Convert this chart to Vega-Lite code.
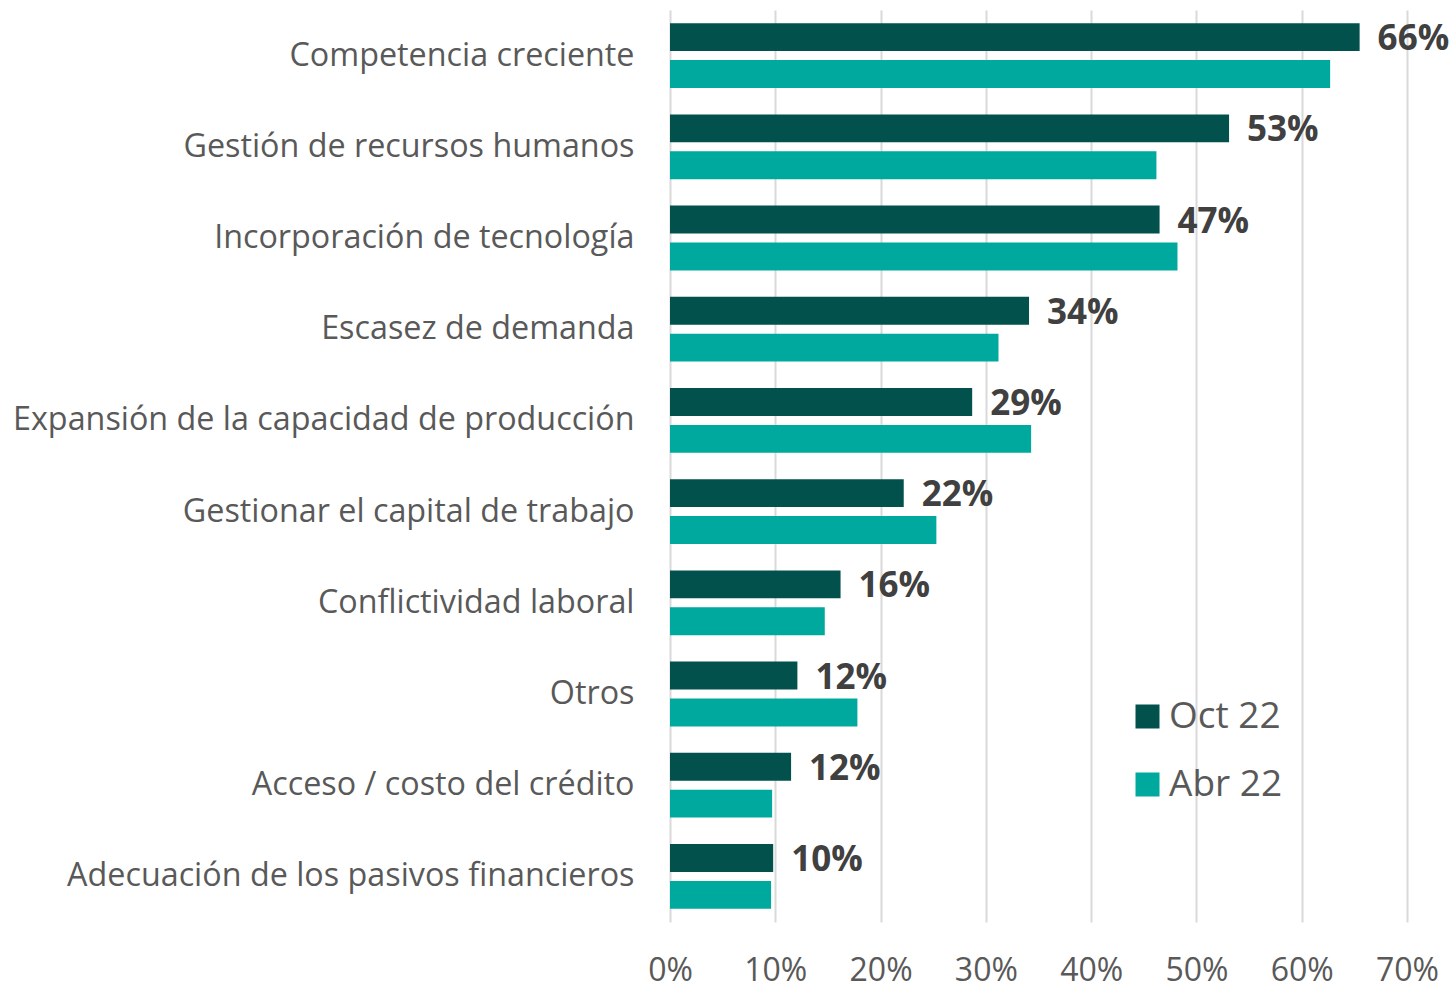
{
  "$schema": "https://vega.github.io/schema/vega-lite/v6.json",
  "autosize": "none",
  "width": 737,
  "height": 912,
  "padding": {"left": 670, "top": 10, "right": 49, "bottom": 66},
  "background": "white",
  "config": {"view": {"stroke": null}, "font": "Open Sans"},
  "data": {"values": [
    {"cat": "Competencia creciente", "serie": "Oct 22", "v": 0.655},
    {"cat": "Competencia creciente", "serie": "Abr 22", "v": 0.627},
    {"cat": "Gestión de recursos humanos", "serie": "Oct 22", "v": 0.531},
    {"cat": "Gestión de recursos humanos", "serie": "Abr 22", "v": 0.462},
    {"cat": "Incorporación de tecnología", "serie": "Oct 22", "v": 0.465},
    {"cat": "Incorporación de tecnología", "serie": "Abr 22", "v": 0.482},
    {"cat": "Escasez de demanda", "serie": "Oct 22", "v": 0.341},
    {"cat": "Escasez de demanda", "serie": "Abr 22", "v": 0.312},
    {"cat": "Expansión de la capacidad de producción", "serie": "Oct 22", "v": 0.287},
    {"cat": "Expansión de la capacidad de producción", "serie": "Abr 22", "v": 0.343},
    {"cat": "Gestionar el capital de trabajo", "serie": "Oct 22", "v": 0.222},
    {"cat": "Gestionar el capital de trabajo", "serie": "Abr 22", "v": 0.253},
    {"cat": "Conflictividad laboral", "serie": "Oct 22", "v": 0.162},
    {"cat": "Conflictividad laboral", "serie": "Abr 22", "v": 0.147},
    {"cat": "Otros", "serie": "Oct 22", "v": 0.121},
    {"cat": "Otros", "serie": "Abr 22", "v": 0.178},
    {"cat": "Acceso / costo del crédito", "serie": "Oct 22", "v": 0.115},
    {"cat": "Acceso / costo del crédito", "serie": "Abr 22", "v": 0.097},
    {"cat": "Adecuación de los pasivos financieros", "serie": "Oct 22", "v": 0.098},
    {"cat": "Adecuación de los pasivos financieros", "serie": "Abr 22", "v": 0.096}
  ]},
  "encoding": {
    "y": {"field": "cat", "type": "nominal",
      "sort": ["Competencia creciente", "Gestión de recursos humanos", "Incorporación de tecnología", "Escasez de demanda", "Expansión de la capacidad de producción", "Gestionar el capital de trabajo", "Conflictividad laboral", "Otros", "Acceso / costo del crédito", "Adecuación de los pasivos financieros"],
      "scale": {"paddingInner": 0.29, "paddingOuter": 0.145},
      "axis": {"title": null, "ticks": false, "domain": false, "labelPadding": 36, "labelFontSize": 32.3, "labelColor": "#595959", "labelFont": "Open Sans", "labelLimit": 800}},
    "yOffset": {"field": "serie", "type": "nominal", "sort": ["Oct 22", "Abr 22"], "scale": {"paddingInner": 0.243, "paddingOuter": 0}}
  },
  "layer": [
    {
      "mark": {"type": "bar"},
      "encoding": {
        "x": {"field": "v", "type": "quantitative",
          "scale": {"domain": [0, 0.7], "nice": false},
          "axis": {"title": null, "format": ".0%", "values": [0, 0.1, 0.2, 0.3, 0.4, 0.5, 0.6, 0.7], "grid": true, "gridColor": "#d9d9d9", "gridWidth": 2, "ticks": false, "domain": false, "labelFlush": false, "labelAlign": "center", "labelPadding": 33, "labelFontSize": 32, "labelColor": "#595959", "labelFont": "Open Sans"}},
        "color": {"field": "serie", "type": "nominal", "sort": ["Oct 22", "Abr 22"],
          "scale": {"domain": ["Oct 22", "Abr 22"], "range": ["#03514D", "#00A99D"]},
          "legend": {"title": null, "orient": "none", "legendX": 459, "legendY": 688, "symbolType": "square", "symbolSize": 576, "symbolStrokeWidth": 0, "symbolOpacity": 1, "labelFontSize": 37, "labelColor": "#595959", "labelFont": "Open Sans", "rowPadding": 30, "labelOffset": 3}}
      }
    },
    {
      "transform": [{"filter": "datum.serie == 'Oct 22'"}],
      "mark": {"type": "text", "align": "left", "baseline": "middle", "dx": 18, "dy": 2, "fontSize": 35, "fontWeight": "bold", "color": "#404040", "font": "Open Sans"},
      "encoding": {
        "x": {"field": "v", "type": "quantitative"},
        "text": {"field": "v", "type": "quantitative", "format": ".0%"}
      }
    }
  ]
}
